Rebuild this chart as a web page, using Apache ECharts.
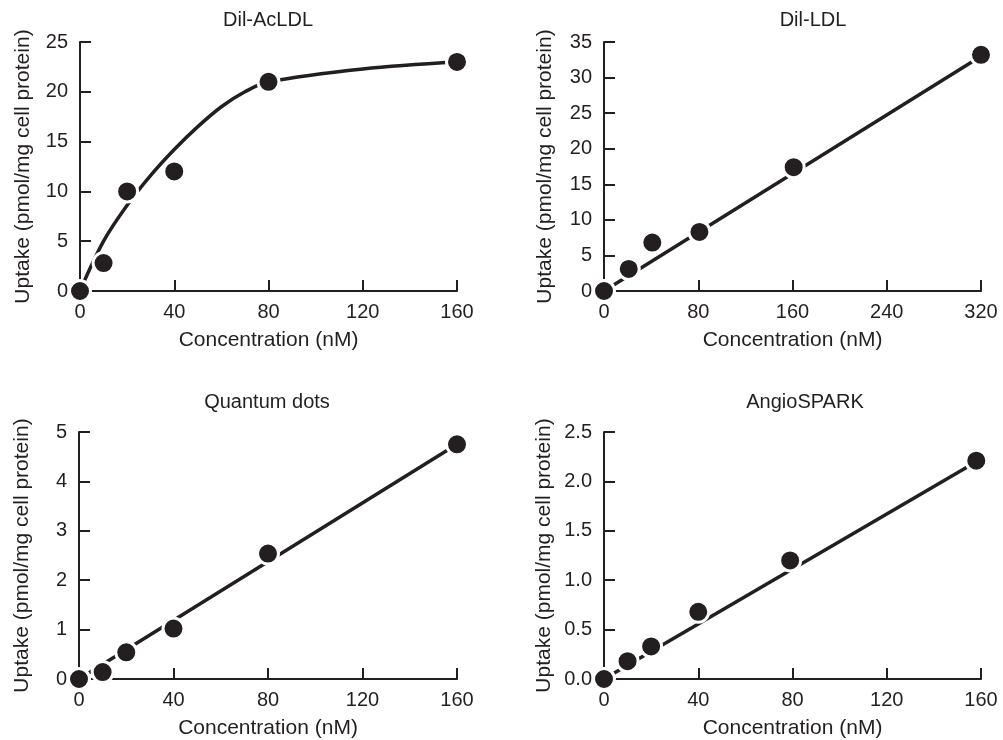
<!DOCTYPE html>
<html>
<head>
<meta charset="utf-8">
<script src="https://cdn.jsdelivr.net/npm/echarts@6/dist/echarts.min.js"></script>
<style>
  html, body { margin: 0; padding: 0; background: #fff; }
  #main { width: 1003px; height: 740px; }
</style>
</head>
<body>
<div id="main"></div>
<script>
// panel titles
const titles = ['Dil-AcLDL', 'Dil-LDL', 'Quantum dots', 'AngioSPARK'];

// Dil-AcLDL
const acldlPoints = [[0, 0], [10, 2.8], [20, 10], [40, 12], [80, 21], [160, 23]];
const acldlCurve = [[0, 0], [10, 5], [20, 8.6], [30, 11.6], [40, 14.2], [50, 16.5], [60, 18.5], [70, 20], [80, 21], [120, 22.3], [160, 23]];
// Dil-LDL
const ldlPoints = [[0, 0], [21, 3.1], [41, 6.8], [81, 8.3], [161, 17.4], [320, 33.2]];
const ldlLine = [[0, 0], [320, 33]];
// Quantum dots
const qdPoints = [[0, 0], [10, 0.14], [20, 0.54], [40, 1.02], [80, 2.54], [160, 4.75]];
const qdLine = [[0, 0], [160, 4.75]];
// AngioSPARK
const angioPoints = [[0, 0], [10, 0.18], [20, 0.33], [40, 0.68], [79, 1.2], [158, 2.21]];
const angioLine = [[0, 0], [158, 2.2]];

// axis ranges
const xMax = [160, 320, 160, 160];
const xStep = [40, 80, 40, 40];
const yMax = [25, 35, 5, 2.5];
const yStep = [5, 5, 1, 0.5];

const ink = '#231f20';
const font = 'Liberation Sans, Arial, Helvetica, sans-serif';

const grids = [
  { left: 80, top: 42, width: 377, height: 249 },
  { left: 604, top: 42, width: 377, height: 249 },
  { left: 79, top: 432, width: 378, height: 249 },
  { left: 604, top: 432, width: 377, height: 249 }
];
const yNameGap = [46, 48, 46, 49];
const titlePos = [[268, 20], [813, 20], [267, 402], [805, 402]];

const xAxes = grids.map((g, i) => ({
  gridIndex: i,
  type: 'value',
  min: 0,
  max: xMax[i],
  interval: xStep[i],
  name: 'Concentration (nM)',
  nameLocation: 'middle',
  nameGap: 39,
  nameTextStyle: { color: ink, fontSize: 21, fontFamily: font },
  axisLine: { lineStyle: { color: ink, width: 2 } },
  axisTick: { inside: true, length: 11, lineStyle: { color: ink, width: 2 } },
  axisLabel: { color: ink, fontSize: 20, fontFamily: font, margin: 11 },
  splitLine: { show: false }
}));

const yAxes = grids.map((g, i) => ({
  gridIndex: i,
  type: 'value',
  min: 0,
  max: yMax[i],
  interval: yStep[i],
  name: 'Uptake (pmol/mg cell protein)',
  nameLocation: 'middle',
  nameGap: yNameGap[i],
  nameTextStyle: { color: ink, fontSize: 21, fontFamily: font },
  axisLine: { lineStyle: { color: ink, width: 2 } },
  axisTick: { inside: true, length: 11, lineStyle: { color: ink, width: 2 } },
  axisLabel: {
    color: ink, fontSize: 20, fontFamily: font, margin: 12,
    formatter: i === 3 ? (v) => v.toFixed(1) : '{value}'
  },
  splitLine: { show: false }
}));

const fits = [acldlCurve, ldlLine, qdLine, angioLine];
const points = [acldlPoints, ldlPoints, qdPoints, angioPoints];

const series = [];
fits.forEach((d, i) => {
  series.push({
    type: 'line',
    xAxisIndex: i,
    yAxisIndex: i,
    data: d,
    smooth: i === 0 ? 0.35 : false,
    symbol: 'none',
    lineStyle: { color: ink, width: 3.5 },
    z: 2
  });
});
points.forEach((d, i) => {
  series.push({
    type: 'scatter',
    xAxisIndex: i,
    yAxisIndex: i,
    data: d,
    symbolSize: 21,
    itemStyle: { color: ink, borderColor: '#fff', borderWidth: 3, opacity: 1 },
    z: 3
  });
});

const chart = echarts.init(document.getElementById('main'));
chart.setOption({
  backgroundColor: '#fff',
  animation: false,
  grid: grids,
  xAxis: xAxes,
  yAxis: yAxes,
  series: series,
  graphic: titles.map((t, i) => ({
    type: 'text',
    x: titlePos[i][0],
    y: titlePos[i][1],
    style: {
      text: t,
      align: 'center',
      verticalAlign: 'middle',
      fill: ink,
      fontSize: 20,
      fontFamily: font
    }
  }))
});
</script>
</body>
</html>
